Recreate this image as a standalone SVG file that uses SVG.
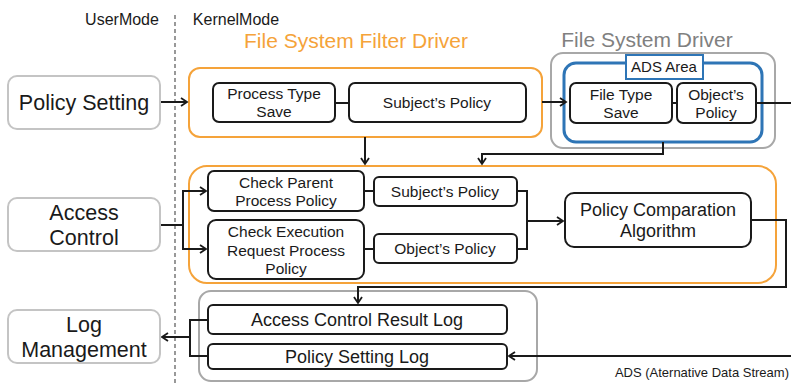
<svg xmlns="http://www.w3.org/2000/svg" width="791" height="383" viewBox="0 0 791 383">
<defs>
<marker id="ah" markerWidth="10" markerHeight="10" refX="8" refY="5" orient="auto" markerUnits="userSpaceOnUse">
<path d="M2,1 L8,5 L2,9" fill="none" stroke="#1a1a1a" stroke-width="1.8"/>
</marker>
<style>
text{font-family:"Liberation Sans",Arial,sans-serif;fill:#1a1a1a;text-anchor:middle}
.user{fill:#fff;stroke:#c4c4c4;stroke-width:2}
.box{fill:#fff;stroke:#1a1a1a;stroke-width:2}
.orange{fill:none;stroke:#f5a33a;stroke-width:2}
.gray{fill:none;stroke:#a8a8a8;stroke-width:2}
.blue{fill:none;stroke:#2e75b6;stroke-width:3}
.ln{fill:none;stroke:#1a1a1a;stroke-width:2}
.big{font-size:21.5px}
.mid{font-size:18px}
.sm{font-size:15.5px}
</style>
</defs>
<g id="labels">
<text x="122" y="25" style="font-size:16px">UserMode</text>
<text x="236" y="25" style="font-size:16px">KernelMode</text>
<text x="356" y="48" style="font-size:21px;fill:#f5a33a">File System Filter Driver</text>
<text x="647" y="47" style="font-size:21px;fill:#808080">File System Driver</text>
<text x="789" y="377" style="font-size:13px;text-anchor:end">ADS (Aternative Data Stream)</text>
</g>
<line id="mode-divider" x1="175" y1="15" x2="175" y2="383" stroke="#555" stroke-width="1.2" stroke-dasharray="4,3"/>
<g id="containers">
<rect class="orange" x="189" y="68" width="353" height="69" rx="11"/>
<rect class="gray" x="551" y="53" width="224" height="95" rx="12"/>
<rect class="blue" x="564" y="63" width="198" height="79" rx="12"/>
<rect class="orange" x="189" y="166" width="587" height="117" rx="18"/>
<rect class="gray" x="199" y="291" width="338" height="90" rx="12"/>
</g>
<g id="connectors">
<line class="ln" x1="160" y1="102" x2="187" y2="102" marker-end="url(#ah)"/>
<line class="ln" x1="335" y1="103" x2="349" y2="103"/>
<line class="ln" x1="542" y1="102" x2="566" y2="102" marker-end="url(#ah)"/>
<line class="ln" x1="672" y1="103" x2="677" y2="103"/>
<line class="ln" x1="756" y1="103" x2="791" y2="103"/>
<line class="ln" x1="365" y1="137" x2="365" y2="164" marker-end="url(#ah)"/>
<polyline class="ln" points="663,142 663,154 482,154 482,164" marker-end="url(#ah)"/>
<polyline class="ln" points="160,225 183,225 183,191 206,191" marker-end="url(#ah)"/>
<polyline class="ln" points="183,225 183,249 206,249" marker-end="url(#ah)"/>
<line class="ln" x1="364" y1="191" x2="374" y2="191"/>
<line class="ln" x1="364" y1="249" x2="374" y2="249"/>
<polyline class="ln" points="517,191 527,191 527,249 517,249"/>
<line class="ln" x1="527" y1="221" x2="563" y2="221" marker-end="url(#ah)"/>
<polyline class="ln" points="751,220 786,220 786,287 358,287 358,303" marker-end="url(#ah)"/>
<polyline class="ln" points="208,320 190,320 190,356 208,356"/>
<line class="ln" x1="190" y1="337" x2="162" y2="337" marker-end="url(#ah)"/>
<line class="ln" x1="791" y1="356" x2="509" y2="356" marker-end="url(#ah)"/>
</g>
<g id="policy-setting">
<rect class="user" x="8" y="76" width="152" height="53" rx="9"/>
<text class="big" x="84" y="110">Policy Setting</text>
</g>
<g id="access-control">
<rect class="user" x="8" y="198" width="152" height="53" rx="9"/>
<text class="big" x="84" y="220">Access</text>
<text class="big" x="84" y="245">Control</text>
</g>
<g id="log-management">
<rect class="user" x="8" y="310" width="152" height="53" rx="9"/>
<text class="big" x="84" y="332">Log</text>
<text class="big" x="84" y="357">Management</text>
</g>
<g id="process-type-save">
<rect class="box" x="213" y="83" width="122" height="39" rx="6"/>
<text class="sm" x="274" y="99">Process Type</text>
<text class="sm" x="274" y="117">Save</text>
</g>
<g id="subjects-policy-1">
<rect class="box" x="349" y="83" width="177" height="39" rx="6"/>
<text class="sm" x="437" y="108">Subject’s Policy</text>
</g>
<g id="ads-area">
<rect x="626" y="55" width="77" height="24" fill="#fff" stroke="#2e75b6" stroke-width="2"/>
<text x="664" y="72" style="font-size:15px">ADS Area</text>
</g>
<g id="file-type-save">
<rect class="box" x="570" y="83" width="102" height="40" rx="6"/>
<text class="sm" x="621" y="100">File Type</text>
<text class="sm" x="621" y="118">Save</text>
</g>
<g id="objects-policy-1">
<rect class="box" x="677" y="83" width="79" height="40" rx="6"/>
<text class="sm" x="716" y="100">Object’s</text>
<text class="sm" x="716" y="118">Policy</text>
</g>
<g id="check-parent">
<rect class="box" x="208" y="171" width="156" height="40" rx="6"/>
<text class="sm" x="286" y="188">Check Parent</text>
<text class="sm" x="286" y="206">Process Policy</text>
</g>
<g id="check-execution">
<rect class="box" x="208" y="220" width="156" height="59" rx="8"/>
<text class="sm" x="286" y="237">Check Execution</text>
<text class="sm" x="286" y="255.5">Request Process</text>
<text class="sm" x="286" y="274">Policy</text>
</g>
<g id="subjects-policy-2">
<rect class="box" x="374" y="177" width="143" height="29" rx="5"/>
<text class="sm" x="445" y="197">Subject’s Policy</text>
</g>
<g id="objects-policy-2">
<rect class="box" x="374" y="234" width="143" height="29" rx="5"/>
<text class="sm" x="445" y="254">Object’s Policy</text>
</g>
<g id="policy-comparation">
<rect class="box" x="565" y="193" width="186" height="54" rx="9"/>
<text class="mid" x="658" y="216">Policy Comparation</text>
<text class="mid" x="658" y="237">Algorithm</text>
</g>
<g id="access-control-result-log">
<rect class="box" x="208" y="305" width="299" height="29" rx="5"/>
<text class="mid" x="357" y="326">Access Control Result Log</text>
</g>
<g id="policy-setting-log">
<rect class="box" x="208" y="344" width="299" height="25" rx="5"/>
<text class="mid" x="357" y="363">Policy Setting Log</text>
</g>
</svg>
